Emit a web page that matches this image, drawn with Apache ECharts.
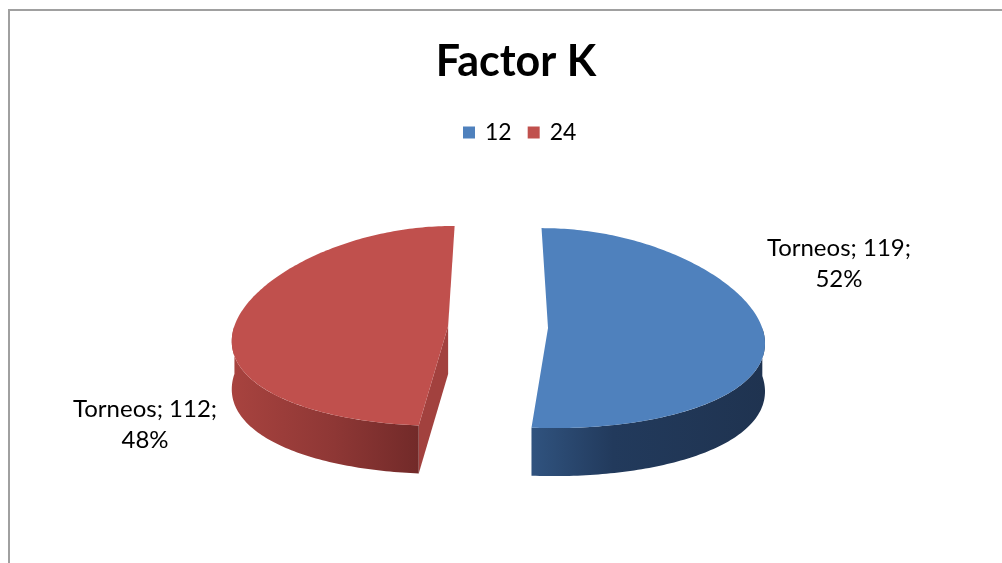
<!DOCTYPE html>
<html>
<head>
<meta charset="utf-8">
<script src="https://cdn.jsdelivr.net/npm/echarts@6/dist/echarts.min.js"></script>
<style>
  html, body { margin: 0; padding: 0; background: #fff; }
  #chart { width: 1002px; height: 563px; }
</style>
</head>
<body>
<div id="chart"></div>
<script>
const seriesName = 'Torneos';
const categories = ['12', '24'];
const values = [119, 112];

const topColors = ['#4f81bd', '#c0504d'];
const wallStops = [
    [['#30537f', 0], ['#223a5c', 0.35], ['#1f3350', 1]],
    [['#a8433f', 0], ['#8e3735', 0.55], ['#722a29', 1]]
];
const cutColors = ['#1f3350', '#a2413e'];

// geometria del pastel 3d (px)
const CX = 498, CY = 327, RX = 214, RY = 100, DEPTH = 48, EXPLODE = 50;
const PERSP = 0.13;
const labelOffsets = [[291, -64], [-303, 99]];

const total = values.reduce((a, b) => a + b, 0);

// perspectiva simple: lo de delante se abre, lo de atras se cierra
function project(x, y, dz) {
    const gz = (y - CY) / RY;
    return [CX + (x - CX) * (1 + PERSP * gz), y + dz];
}

function pt(cx, cy, a, dz) {
    return project(cx + RX * Math.sin(a), cy - RY * Math.cos(a), dz);
}

function arc(cx, cy, a0, a1, dz) {
    const pts = [];
    const n = Math.max(2, Math.ceil((a1 - a0) / (Math.PI / 180)));
    for (let i = 0; i <= n; i++) pts.push(pt(cx, cy, a0 + (a1 - a0) * i / n, dz));
    return pts;
}

function makeRender(idx) {
    return function (params, api) {
        const v = api.value(0);
        let start = 0;
        for (let i = 0; i < idx; i++) start += values[i];
        const a0 = start / total * 2 * Math.PI;
        const a1 = (start + v) / total * 2 * Math.PI;
        const mid = (a0 + a1) / 2;
        const cx = CX + EXPLODE * Math.sin(mid);
        const cy = CY - EXPLODE * Math.cos(mid) * RY / RX;
        const c0 = project(cx, cy, 0), c1 = project(cx, cy, DEPTH);
        const children = [];

        // caras de corte visibles
        [[a0, Math.sin(a0) < -1e-6], [a1, Math.sin(a1) > 1e-6]].forEach(([a, vis]) => {
            if (!vis) return;
            children.push({
                type: 'polygon',
                shape: { points: [c0, pt(cx, cy, a, 0), pt(cx, cy, a, DEPTH), c1] },
                style: { fill: cutColors[idx] }
            });
        });

        // pared exterior (mitad frontal)
        const w0 = Math.max(a0, Math.PI / 2), w1 = Math.min(a1, 3 * Math.PI / 2);
        if (w1 > w0) {
            const top = arc(cx, cy, w0, w1, 0);
            const bottom = arc(cx, cy, w0, w1, DEPTH).reverse();
            children.push({
                type: 'polygon',
                shape: { points: top.concat(bottom) },
                style: {
                    fill: {
                        type: 'linear', x: 0, y: 0, x2: 1, y2: 0,
                        colorStops: wallStops[idx].map(s => ({ offset: s[1], color: s[0] }))
                    }
                }
            });
        }

        // cara superior
        children.push({
            type: 'polygon',
            shape: { points: [c0].concat(arc(cx, cy, a0, a1, 0)) },
            style: { fill: topColors[idx] }
        });

        // etiqueta
        const pct = Math.round(v / total * 100);
        children.push({
            type: 'text',
            x: cx + labelOffsets[idx][0],
            y: cy + labelOffsets[idx][1],
            style: {
                text: seriesName + '; ' + v + ';\n' + pct + '%',
                fill: '#000',
                fontFamily: 'Lato',
                fontSize: 24,
                lineHeight: 31,
                align: 'center',
                verticalAlign: 'middle'
            }
        });

        return { type: 'group', children: children };
    };
}

const chart = echarts.init(document.getElementById('chart'));

const option = {
    animation: false,
    backgroundColor: '#fff',
    title: {
        text: 'Factor K',
        left: 511,
        top: 36,
        textAlign: 'center',
        textStyle: { fontFamily: 'Lato', fontWeight: 'bold', fontSize: 43, color: '#000' }
    },
    legend: {
        data: categories,
        left: 458,
        top: 116,
        icon: 'rect',
        itemWidth: 12,
        itemHeight: 12,
        itemGap: 16,
        textStyle: { fontFamily: 'Lato', fontSize: 23, color: '#000', padding: [0, 0, 0, 5] }
    },
    graphic: [{
        type: 'rect',
        silent: true,
        z: -10,
        shape: { x: 9, y: 10, width: 1200, height: 800 },
        style: { fill: 'none', stroke: '#a0a0a0', lineWidth: 2 }
    }],
    series: categories.map((c, i) => ({
        type: 'custom',
        name: c,
        coordinateSystem: 'none',
        renderItem: makeRender(i),
        itemStyle: { color: topColors[i] },
        data: [[values[i]]]
    }))
};

chart.setOption(option);
</script>
</body>
</html>
